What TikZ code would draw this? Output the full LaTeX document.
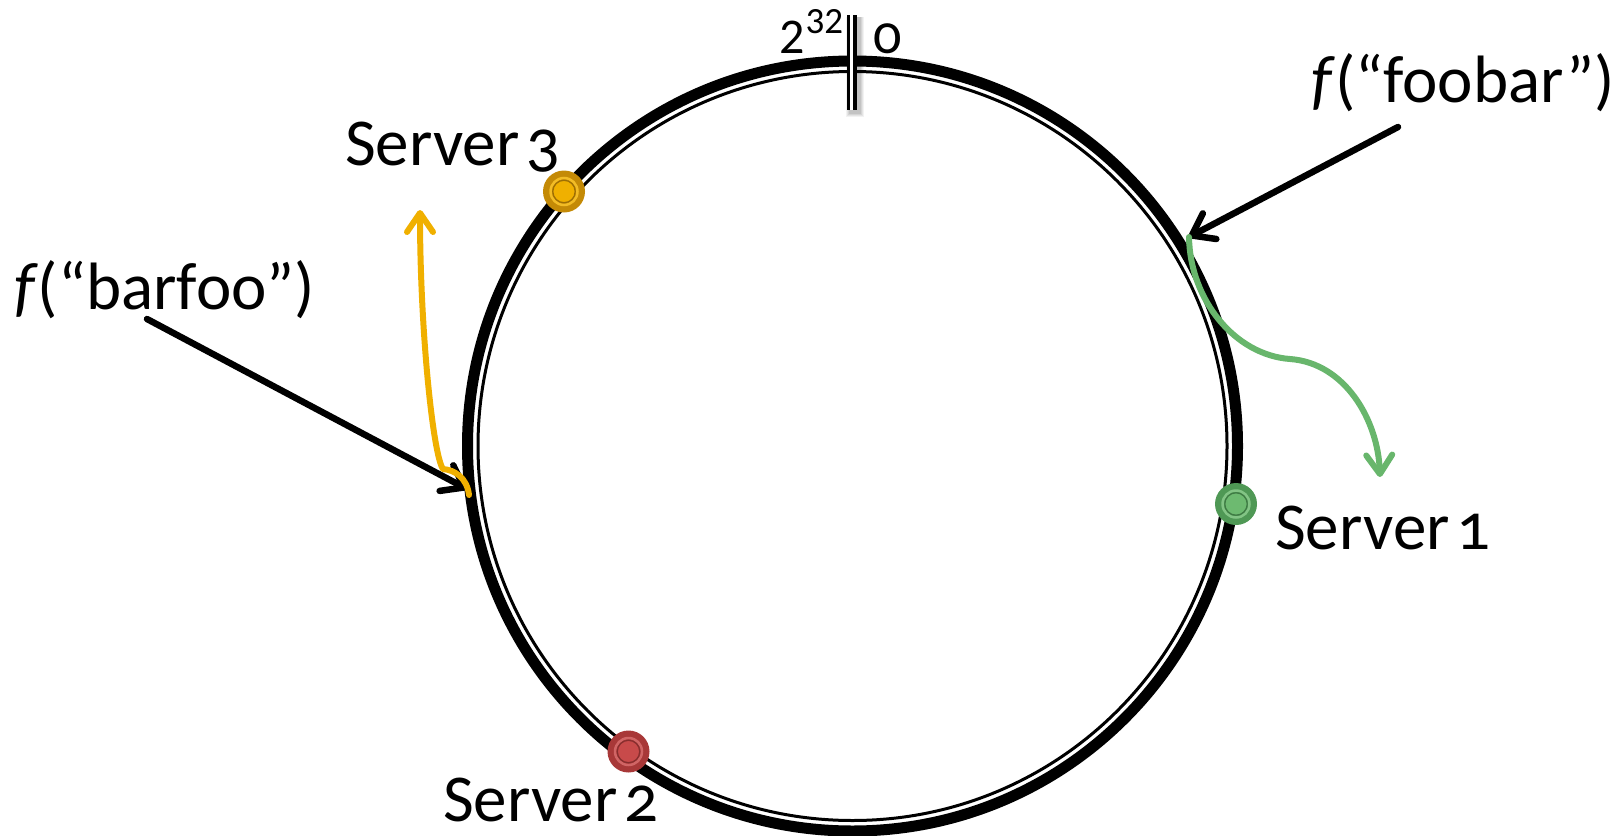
\documentclass[tikz,border=0pt]{standalone}
\usepackage{fontspec}
\setmainfont{Carlito}[Numbers=OldStyle]
\usetikzlibrary{arrows.meta}

\definecolor{goldDark}{RGB}{196,138,6}
\definecolor{goldLight}{RGB}{240,176,0}
\definecolor{greenDark}{RGB}{79,152,85}
\definecolor{greenLight}{RGB}{109,186,112}
\definecolor{redDark}{RGB}{168,56,56}
\definecolor{redLight}{RGB}{200,74,74}
\definecolor{hashGreen}{RGB}{104,182,108}

\tikzset{
  ring/.style={line width=11pt, black},
  innerring/.style={line width=3pt, black},
  server/.style 2 args={circle, minimum size=42pt, inner sep=0pt, fill=#1,
    path picture={
      \draw[#2!85!white, line width=2.5pt] (path picture bounding box.center) circle (13.5pt);
      \draw[#1!80!black, line width=1.2pt, fill=#2] (path picture bounding box.center) circle (11.2pt);
    }},
  lbl/.style={font=\fontsize{67}{72}\selectfont, inner sep=0pt, anchor=base west},
  hashptr/.style={line width=6.5pt, line cap=round, line join=round,
    -{Straight Barb[round, length=20pt, width=29pt]}},
  walk/.style={line width=6pt, line cap=round, line join=round,
    -{Straight Barb[round, length=19pt, width=26pt]}},
}

\begin{document}
\begin{tikzpicture}[x=1pt, y=-1pt]
\useasboundingbox (0,0) rectangle (1616,835);

% hash ring
\coordinate (c) at (852.5,446);
\draw[ring] (c) circle (385pt);
\draw[innerring] (c) circle (374.5pt);

% origin marker with its soft shadow
\foreach \s/\o in {5/0.05,4/0.06,3/0.07,2/0.08}
  \fill[black, opacity=\o] (848-\s+3,17) rectangle (858+\s+1,112+\s);
\fill[white] (848,15) rectangle (854,110);
\fill[black] (847.3,15) rectangle (850,110);
\fill[black] (852.7,15) rectangle (856.7,110);

\node[lbl, font=\fontsize{50}{56}\selectfont\addfontfeature{Numbers=Lining}] (two) at (779,53)
  {2\raisebox{20pt}{\fontsize{37}{40}\selectfont\hspace{1pt}32}};
\node[lbl, font=\fontsize{56}{60}\selectfont] (zero) at (873,53) {0};

% keys hashed onto the ring
\node[lbl] (foobar) at (1311,102) {\textit{f}(“foobar”)};
\node[lbl] (barfoo) at (14,309) {\textit{f}(“barfoo”)};

\coordinate (foobarTail) at (1398,127);
\coordinate (foobarHit) at (1189,237);
\coordinate (barfooTail) at (147,319);
\coordinate (barfooHit) at (467,489);

\draw[hashptr] (foobarTail) -- (foobarHit);
\draw[hashptr] (barfooTail) -- (barfooHit);

% walking the ring to the owning server
\coordinate (goldEnd) at (420,210);
\coordinate (greenEnd) at (1380,477);
\draw[walk, goldLight] (469,495) .. controls (467,478) and (455,470) .. (443,469)
  .. controls (433,455) and (420,330) .. (goldEnd);
\draw[walk, hashGreen] (foobarHit) .. controls (1190,300) and (1235,355) .. (1290,359)
  .. controls (1345,363) and (1378,420) .. (greenEnd);

% servers
\node[server={goldDark}{goldLight}] (srv3) at (564,191.5) {};
\node[server={greenDark}{greenLight}] (srv1) at (1236,504) {};
\node[server={redDark}{redLight}] (srv2) at (628.5,751.5) {};

\node[lbl] (lab3) at (345,165) {Server\hspace{7pt}3};
\node[lbl] (lab1) at (1275,549) {Server\hspace{7pt}1};
\node[lbl, text depth=0pt] (lab2) at (443,821) {Server\hspace{7pt}2};
\end{tikzpicture}
\end{document}
